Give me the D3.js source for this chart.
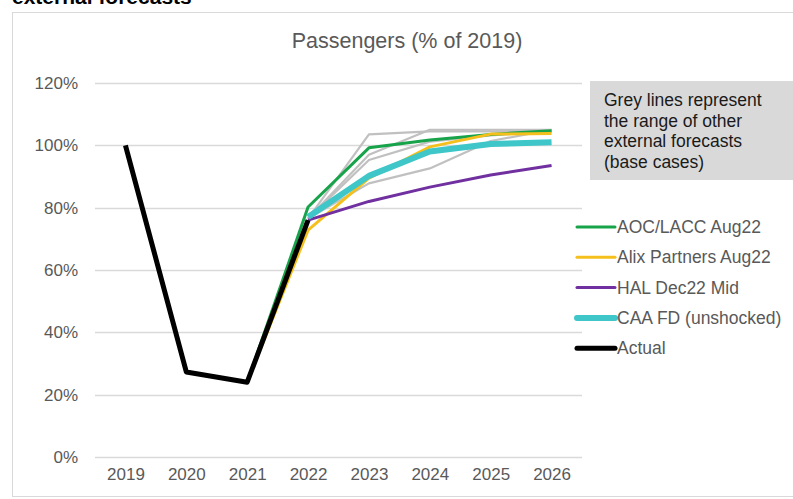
<!DOCTYPE html>
<html>
<head>
<meta charset="utf-8">
<script src="https://cdn.jsdelivr.net/npm/d3@7"></script>
<style>
  html, body { margin: 0; padding: 0; background: #fff; overflow: hidden; }
  svg { display: block; font-family: "Liberation Sans", Arial, sans-serif; }
</style>
</head>
<body>
<script>
// years on the x axis
var years = ["2019", "2020", "2021", "2022", "2023", "2024", "2025", "2026"];
var yTicks = [0, 0.2, 0.4, 0.6, 0.8, 1.0, 1.2];

// forecasts (share of 2019), null = no point
var actual   = [1.00, 0.273, 0.240, 0.760, null, null, null, null];
var aocLacc  = [null, null, 0.240, 0.802, 0.992, 1.017, 1.035, 1.047];
var alix     = [null, null, 0.240, 0.728, 0.895, 0.995, 1.036, 1.038];
var hal      = [null, null, null, 0.760, 0.820, 0.866, 0.905, 0.935];
var caa      = [null, null, null, 0.770, 0.902, 0.980, 1.004, 1.010];

// grey lines: other external forecasts
var grey1 = [null, null, null, 0.765, 1.035, 1.045, 1.045, 1.045];
var grey2 = [null, null, null, 0.765, 0.970, 1.050, 1.050, 1.050];
var grey3 = [null, null, null, 0.765, 0.953, 1.012, 1.032, 1.045];
var grey4 = [null, null, null, 0.765, 0.878, 0.926, 1.014, 1.050];

var legendNames = ["AOC/LACC Aug22", "Alix Partners Aug22", "HAL Dec22 Mid", "CAA FD (unshocked)", "Actual"];
var noteLines = ["Grey lines represent", "the range of other", "external forecasts", "(base cases)"];

var W = 793, H = 499;

var svg = d3.select("body").append("svg")
  .attr("width", W)
  .attr("height", H);

// heading above the frame, cut off by the top edge as in the source
svg.append("text")
  .attr("x", 12)
  .attr("y", 4)
  .attr("font-size", 21)
  .attr("font-weight", "bold")
  .attr("fill", "#000")
  .text("external forecasts");

// chart frame
svg.append("rect")
  .attr("x", 12.5)
  .attr("y", 12.5)
  .attr("width", 800)
  .attr("height", 484)
  .attr("fill", "none")
  .attr("stroke", "#d9d9d9");

var x = d3.scalePoint().domain(years).range([95, 582]).padding(0.5);
var y = d3.scaleLinear().domain([0, 1.2]).range([457, 83]);

// title
svg.append("text")
  .attr("x", 407)
  .attr("y", 48)
  .attr("text-anchor", "middle")
  .attr("font-size", 21.5)
  .attr("fill", "#595959")
  .text("Passengers (% of 2019)");

// gridlines
svg.append("g").selectAll("line").data(yTicks).enter().append("line")
  .attr("x1", 95).attr("x2", 582)
  .attr("y1", function (d) { return Math.round(y(d)) + 0.5; })
  .attr("y2", function (d) { return Math.round(y(d)) + 0.5; })
  .attr("stroke", "#d9d9d9")
  .attr("stroke-width", 1.3);

// y axis labels
var yAxis = svg.append("g")
  .attr("transform", "translate(91,0)")
  .call(d3.axisLeft(y).tickValues(yTicks).tickFormat(d3.format(".0%")).tickSize(0).tickPadding(13));
yAxis.select(".domain").remove();
yAxis.selectAll("text")
  .attr("font-size", 17)
  .attr("font-family", "Liberation Sans, Arial, sans-serif")
  .attr("fill", "#595959");

// x axis labels
var xAxis = svg.append("g")
  .attr("transform", "translate(0,462)")
  .call(d3.axisBottom(x).tickSize(0).tickPadding(6));
xAxis.select(".domain").remove();
xAxis.selectAll("text")
  .attr("font-size", 17)
  .attr("font-family", "Liberation Sans, Arial, sans-serif")
  .attr("fill", "#595959");

var line = d3.line()
  .defined(function (d) { return d != null; })
  .x(function (d, i) { return x(years[i]); })
  .y(function (d) { return y(d); });

function drawSeries(vals, color, width) {
  svg.append("path")
    .datum(vals)
    .attr("d", line)
    .attr("fill", "none")
    .attr("stroke", color)
    .attr("stroke-width", width)
    .attr("stroke-linejoin", "round");
}

[grey1, grey2, grey3, grey4].forEach(function (g) {
  drawSeries(g, "#c0c0c0", 2.2);
});

var colors = ["#17a34a", "#f5c01c", "#7030a0", "#3ec6c8", "#000000"];
var widths = [3, 3, 3, 6, 5];

drawSeries(aocLacc, colors[0], widths[0]);
drawSeries(alix, colors[1], widths[1]);
drawSeries(hal, colors[2], widths[2]);
drawSeries(caa, colors[3], widths[3]);
drawSeries(actual, colors[4], widths[4]);

// note box
svg.append("rect")
  .attr("x", 590)
  .attr("y", 81)
  .attr("width", 210)
  .attr("height", 99)
  .attr("fill", "#d9d9d9");

svg.append("g").selectAll("text").data(noteLines).enter().append("text")
  .attr("x", 604)
  .attr("y", function (d, i) { return 106 + i * 20.7; })
  .attr("font-size", 17.5)
  .attr("fill", "#1a1a1a")
  .text(function (d) { return d; });

// legend
var leg = svg.append("g").selectAll("g").data(legendNames).enter().append("g")
  .attr("transform", function (d, i) { return "translate(577," + (227 + i * 30.3) + ")"; });

leg.append("line")
  .attr("x1", 0).attr("x2", 38)
  .attr("stroke", function (d, i) { return colors[i]; })
  .attr("stroke-width", function (d, i) { return widths[i]; })
  .attr("stroke-linecap", "round");

leg.append("text")
  .attr("x", 40)
  .attr("y", 6)
  .attr("font-size", 17.5)
  .attr("fill", "#595959")
  .text(function (d) { return d; });
</script>
</body>
</html>
